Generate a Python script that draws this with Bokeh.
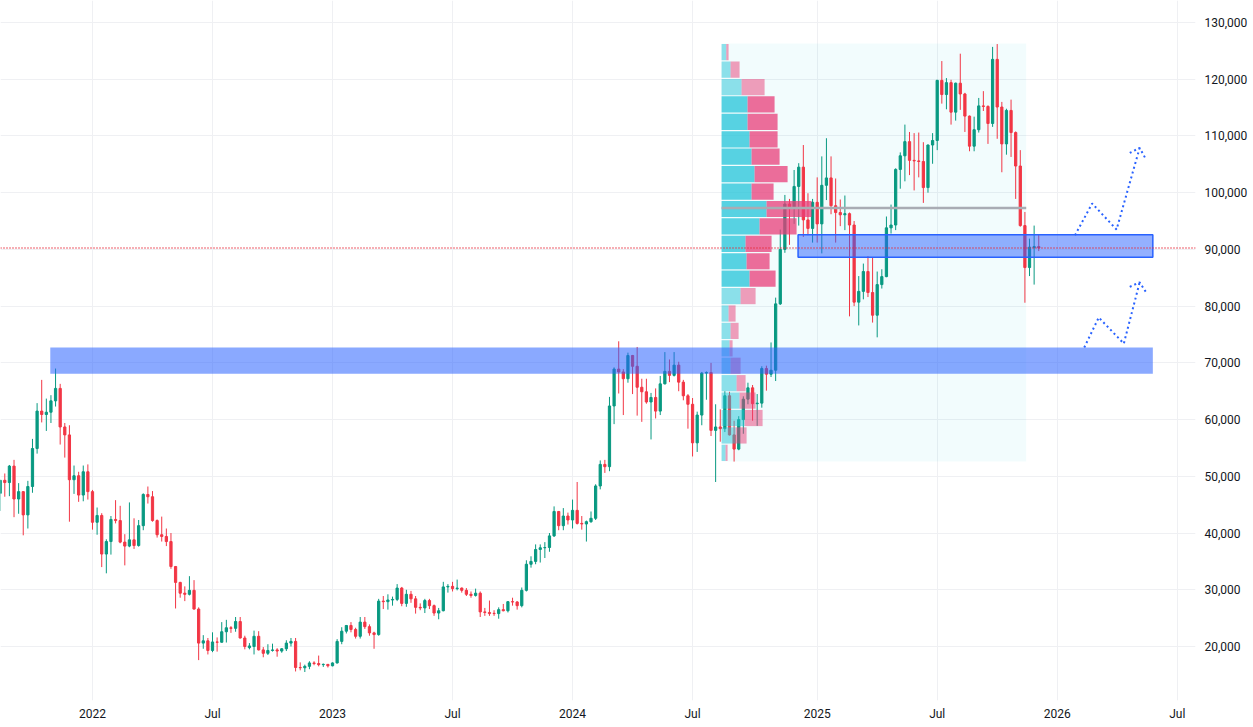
import pandas as pd
from bokeh.plotting import figure
from bokeh.models import Range1d, FixedTicker, NumeralTickFormatter, Span, ColumnDataSource
from bokeh.embed import file_html
from bokeh.resources import INLINE

# ---------------- data ----------------
# Weekly BTC/USD candles (week opening Monday), in thousands USD: (open, high, low, close)
first_week = "2021-08-16"
ohlc_2021 = [
    (47.0, 49.4, 43.9, 49.3), (49.3, 50.5, 46.4, 48.9), (48.9, 52.0, 46.5, 51.8), (51.8, 52.9, 42.8, 46.0),
    (46.0, 48.8, 43.4, 47.3), (47.3, 47.4, 39.6, 43.2), (43.2, 49.2, 40.8, 48.2), (48.2, 56.6, 47.1, 54.9),
    (54.9, 62.9, 54.0, 61.5), (61.5, 67.0, 59.5, 60.9), (60.9, 63.7, 58.0, 61.3), (61.3, 64.3, 59.4, 63.3),
    (63.3, 69.0, 62.3, 65.5), (65.5, 66.3, 55.6, 58.7), (58.7, 59.4, 53.3, 57.3), (57.3, 59.0, 42.0, 49.4),
    (49.4, 51.9, 46.9, 50.1), (50.1, 50.8, 45.5, 46.7), (46.7, 51.9, 45.6, 50.8), (50.8, 52.1, 45.9, 47.3),
]
ohlc_2022 = [
    (47.3, 47.6, 40.6, 41.9), (41.9, 44.5, 39.7, 43.1), (43.1, 43.5, 34.0, 36.3), (36.3, 38.9, 32.9, 38.5),
    (38.5, 43.0, 36.2, 42.4), (42.4, 45.8, 41.7, 42.2), (42.2, 44.8, 38.2, 38.4), (38.4, 39.8, 34.3, 37.7),
    (37.7, 45.4, 37.5, 38.8), (38.8, 42.6, 37.2, 37.8), (37.8, 42.3, 37.6, 41.3), (41.3, 47.0, 40.5, 46.8),
    (46.8, 48.2, 45.2, 46.4), (46.4, 47.4, 42.0, 42.2), (42.2, 42.4, 39.2, 39.7), (39.7, 42.9, 38.5, 39.4),
    (39.4, 40.8, 37.7, 38.5), (38.5, 40.0, 33.7, 34.1), (34.1, 34.2, 26.7, 31.3), (31.3, 31.4, 28.6, 29.4),
    (29.4, 30.6, 28.0, 29.2), (29.2, 32.4, 29.0, 29.9), (29.9, 31.7, 26.5, 26.6), (26.6, 26.9, 17.6, 20.6),
    (20.6, 22.0, 19.6, 21.0), (21.0, 21.5, 18.6, 19.3), (19.3, 22.5, 19.0, 20.8), (20.8, 21.6, 19.1, 20.75),
    (20.75, 24.3, 20.7, 22.6), (22.6, 24.7, 20.7, 23.3), (23.3, 23.6, 22.4, 23.2), (23.2, 25.2, 22.6, 24.4),
    (24.4, 25.2, 21.4, 21.5), (21.5, 21.9, 19.5, 20.0), (19.8, 20.6, 19.5, 20.1), (20.0, 22.8, 18.6, 21.8),
    (21.8, 22.7, 19.3, 19.4), (19.4, 19.9, 18.1, 18.8), (18.8, 20.4, 18.5, 19.3), (19.3, 20.5, 19.1, 19.4),
    (19.4, 19.7, 18.2, 19.2), (19.2, 19.7, 18.9, 19.6), (19.6, 21.1, 19.2, 20.6), (20.6, 21.5, 20.0, 20.9),
    (20.9, 21.5, 15.6, 16.3), (16.3, 17.2, 15.8, 16.25), (16.25, 16.8, 15.5, 16.5), (16.5, 17.4, 16.0, 17.1),
    (17.1, 17.4, 16.7, 17.0), (17.0, 18.4, 16.5, 16.8), (16.8, 17.0, 16.4, 16.85), (16.85, 16.9, 16.3, 16.6),
]
ohlc_2023 = [
    (16.6, 17.2, 16.5, 17.1), (17.1, 21.3, 17.0, 20.9), (20.9, 23.4, 20.4, 22.7), (22.7, 23.8, 22.3, 23.7),
    (23.7, 24.3, 22.5, 23.0), (23.0, 23.3, 21.4, 21.8), (21.8, 25.2, 21.4, 24.3), (24.3, 25.2, 23.1, 23.5),
    (23.5, 23.9, 21.9, 22.4), (22.4, 22.6, 19.6, 22.1), (22.1, 28.4, 21.9, 28.0), (28.0, 28.9, 26.6, 27.9),
    (27.9, 29.2, 26.5, 28.2), (28.2, 28.8, 27.2, 28.3), (28.3, 31.0, 28.0, 30.3), (30.3, 30.5, 27.1, 27.6),
    (27.6, 30.0, 27.0, 29.2), (29.2, 29.8, 27.7, 28.4), (28.4, 28.9, 25.8, 26.9), (26.9, 27.6, 26.4, 26.8),
    (26.8, 28.4, 25.9, 28.1), (28.1, 28.4, 26.6, 27.2), (27.2, 27.4, 25.4, 25.9), (25.9, 26.8, 24.8, 26.3),
    (26.3, 31.4, 26.2, 30.5), (30.5, 31.0, 29.5, 30.6), (30.6, 31.4, 29.7, 30.2), (30.2, 31.8, 29.9, 30.3),
    (30.3, 30.4, 29.5, 29.9), (29.9, 30.3, 28.9, 29.2), (29.2, 29.7, 28.6, 29.0), (29.0, 30.2, 28.8, 29.4),
    (29.4, 29.7, 25.2, 26.1), (26.1, 26.8, 25.4, 26.0), (26.0, 28.1, 25.4, 25.8), (25.85, 26.4, 25.4, 25.8),
    (25.8, 26.9, 24.9, 26.5), (26.5, 27.5, 26.2, 26.3), (26.3, 28.0, 26.0, 27.9), (27.9, 28.6, 27.2, 27.85),
    (27.85, 28.0, 26.5, 27.2), (27.2, 30.4, 26.9, 29.9), (29.9, 35.2, 29.7, 34.5), (34.5, 35.9, 33.9, 35.0),
    (35.0, 38.0, 34.5, 37.1), (37.1, 38.0, 34.8, 37.4), (37.4, 38.4, 35.6, 37.45), (37.45, 40.0, 36.7, 39.5),
    (39.5, 44.7, 39.3, 43.8), (43.8, 43.9, 40.5, 41.3), (41.3, 44.4, 40.5, 43.0), (43.0, 43.6, 41.5, 42.3),
]
ohlc_2024 = [
    (42.3, 45.9, 40.8, 44.0), (44.0, 49.0, 41.5, 41.7), (41.7, 43.0, 40.6, 41.6), (41.6, 42.2, 38.5, 42.0),
    (42.0, 43.8, 41.8, 42.6), (42.6, 48.6, 42.3, 48.3), (48.3, 52.8, 47.7, 52.1), (52.1, 52.9, 50.6, 51.7),
    (51.7, 64.0, 50.9, 62.4), (62.4, 69.2, 59.2, 68.9), (68.9, 73.8, 64.6, 68.4), (68.4, 68.9, 60.8, 67.2),
    (67.2, 71.8, 66.5, 71.3), (71.3, 71.4, 64.5, 69.4), (69.4, 72.8, 60.7, 65.7), (65.7, 67.2, 59.6, 64.9),
    (64.9, 67.2, 62.8, 63.1), (63.1, 64.7, 56.5, 63.9), (63.9, 65.5, 60.2, 61.5), (61.5, 67.7, 60.8, 66.3),
    (66.3, 71.9, 66.2, 68.5), (68.5, 70.6, 66.6, 67.8), (67.8, 71.9, 67.6, 69.6), (69.6, 70.2, 65.0, 66.6),
    (66.6, 67.0, 63.4, 64.2), (64.2, 64.5, 58.4, 62.7), (62.7, 63.8, 53.5, 55.9), (55.9, 61.4, 54.3, 60.8),
    (60.8, 68.4, 59.0, 68.2), (68.2, 68.5, 63.5, 68.3), (68.3, 70.0, 57.1, 58.1), (58.1, 62.7, 49.0, 58.7),
    (58.7, 61.8, 56.1, 58.4), (58.4, 65.0, 57.8, 64.2), (64.2, 64.9, 57.2, 57.3), (57.3, 59.8, 52.6, 54.8),
    (54.8, 60.6, 54.6, 60.0), (60.0, 64.1, 57.5, 63.6), (63.6, 66.5, 62.7, 65.6), (65.6, 66.1, 59.8, 62.8),
    (62.8, 64.5, 58.9, 62.9), (62.9, 69.4, 62.1, 69.0), (69.0, 69.5, 65.1, 68.0), (68.0, 73.6, 67.5, 68.7),
    (68.7, 81.5, 66.8, 80.4), (80.4, 93.5, 80.2, 90.0), (90.0, 99.6, 89.4, 98.0), (98.0, 98.9, 90.8, 97.2),
    (97.2, 104.0, 94.5, 101.1), (101.1, 105.2, 94.2, 104.5), (104.5, 108.4, 92.2, 95.2), (95.2, 99.9, 92.5, 93.7),
    (93.7, 98.9, 91.2, 98.3),
]
ohlc_2025 = [
    (98.3, 102.7, 91.2, 94.5), (94.5, 106.4, 89.3, 101.3), (101.3, 109.6, 98.7, 102.6), (102.6, 106.4, 96.2, 97.7),
    (97.7, 102.5, 91.2, 96.5), (96.5, 98.8, 94.1, 96.1), (96.1, 99.5, 93.4, 96.3), (96.3, 96.5, 78.2, 94.3),
    (94.3, 95.0, 80.0, 80.7), (80.7, 85.3, 76.6, 82.6), (82.6, 87.5, 81.2, 86.1), (86.1, 88.8, 81.6, 82.4),
    (82.4, 88.5, 77.1, 78.4), (78.4, 86.1, 74.5, 83.8), (83.8, 86.5, 83.1, 85.2), (85.2, 95.8, 85.1, 93.8),
    (93.8, 97.9, 92.8, 94.3), (94.3, 104.3, 93.4, 104.1), (104.1, 107.1, 100.7, 106.5), (106.5, 112.0, 102.0, 109.0),
    (109.0, 110.7, 103.1, 105.7), (105.7, 110.5, 100.4, 105.6), (105.6, 110.6, 102.7, 105.5), (105.5, 108.9, 98.2, 100.9),
    (100.9, 108.5, 100.0, 108.4), (108.4, 110.5, 105.1, 109.2), (109.2, 119.9, 107.5, 119.8), (119.8, 123.2, 115.7, 117.3),
    (117.3, 120.2, 114.7, 119.4), (119.4, 119.9, 112.0, 114.2), (114.2, 119.4, 112.7, 119.3), (119.3, 124.5, 114.6, 117.4),
    (117.4, 117.6, 110.7, 113.5), (113.5, 113.6, 107.3, 108.2), (108.2, 113.4, 107.3, 111.1), (111.1, 116.7, 110.6, 115.3),
    (115.3, 117.9, 114.4, 115.2), (115.2, 115.4, 108.6, 112.2), (112.2, 125.7, 111.6, 123.5), (123.5, 126.2, 109.5, 115.1),
    (115.1, 116.0, 103.6, 108.6), (108.6, 114.8, 106.7, 114.5), (114.5, 116.4, 106.3, 110.6), (110.6, 110.8, 98.9, 104.7),
    (104.7, 107.5, 94.0, 94.2), (94.2, 96.6, 80.6, 86.8), (86.8, 91.9, 85.3, 90.4), (90.3, 94.2, 83.8, 90.5),
    (90.5, 92.7, 89.7, 90.25),
]

# Fixed-range volume profile (bottom row first), relative volumes
profile_start = "2024-08-14"
profile_end = "2025-11-19"
profile_low = 52600
profile_high = 126300
vp_up = [4, 14, 23, 18, 15, 9, 8, 9, 7, 19, 28, 25, 24, 38, 45, 30, 33, 30, 28, 26, 26, 20, 9, 4.7]
vp_down = [2, 11, 18, 16, 9, 10, 3, 8, 7, 15, 26, 23, 26, 37, 45, 22, 33, 28, 28, 30, 27, 23, 9, 2.3]
vp_value_area = [False] * 10 + [True] * 11 + [False] * 3
poc_price = 97300

# Drawn zones (rectangles)
zone_start = ["2021-10-31", "2024-12-08"]
zone_end = ["2026-05-30", "2026-05-30"]
zone_low = [68100, 88600]
zone_high = [72700, 92600]

# Dotted projection paths
upper_path_dates = ["2026-02-01", "2026-02-27", "2026-04-05", "2026-05-10"]
upper_path_prices = [92500, 98100, 93500, 107900]
upper_head_dates = ["2026-04-25", "2026-05-10", "2026-05-19"]
upper_head_prices = [107000, 107900, 106000]
lower_path_dates = ["2026-02-15", "2026-03-09", "2026-04-16", "2026-05-10"]
lower_path_prices = [72700, 78000, 73400, 84200]
lower_head_dates = ["2026-04-25", "2026-05-10", "2026-05-20"]
lower_head_prices = [83400, 84200, 82400]

# Axis ticks
time_tick_dates = ["2022-01-01", "2022-07-01", "2023-01-01", "2023-07-01", "2024-01-01",
                   "2024-07-01", "2025-01-01", "2025-07-01", "2026-01-01", "2026-07-01"]
time_tick_labels = ["2022", "Jul", "2023", "Jul", "2024", "Jul", "2025", "Jul", "2026", "Jul"]
price_ticks = [20000, 30000, 40000, 50000, 60000, 70000, 80000, 90000, 100000, 110000, 120000, 130000]

# ---------------- build ----------------
ORIGIN = pd.Timestamp("2022-01-03")


def to_x(d):
    return (pd.Timestamp(d) - ORIGIN) / pd.Timedelta(days=1)


ohlc = ohlc_2021 + ohlc_2022 + ohlc_2023 + ohlc_2024 + ohlc_2025
weeks = pd.date_range(first_week, periods=len(ohlc), freq="7D")
UP, DOWN = "#089981", "#F23645"

cx = [to_x(w) for w in weeks]
op = [r[0] * 1000 for r in ohlc]
hi = [r[1] * 1000 for r in ohlc]
lo = [r[2] * 1000 for r in ohlc]
cl = [r[3] * 1000 for r in ohlc]
col = [UP if c >= o else DOWN for o, c in zip(op, cl)]
src = ColumnDataSource(dict(x=cx, top=[max(a, b) for a, b in zip(op, cl)],
                            bottom=[min(a, b) for a, b in zip(op, cl)],
                            high=hi, low=lo, color=col))

p = figure(frame_width=1195, frame_height=700,
           x_range=Range1d(-139.5, 1672.7), y_range=Range1d(10481, 133878),
           y_axis_location="right", output_backend="svg", toolbar_location=None,
           min_border=0, title=None)
p.outline_line_color = None
p.background_fill_color = "white"
p.border_fill_color = "white"

# axes
tick_x = []
for d in time_tick_dates:
    t = pd.Timestamp(d)
    t = t + pd.Timedelta(days=(7 - t.weekday()) % 7)
    tick_x.append(int(to_x(t)))
xt = FixedTicker(ticks=tick_x)
yt = FixedTicker(ticks=price_ticks)
xax = p.xaxis[0]
yax = p.yaxis[0]
xax.ticker = xt
xax.major_label_overrides = {x: lab for x, lab in zip(tick_x, time_tick_labels)}
yax.ticker = yt
yax.formatter = NumeralTickFormatter(format="0,0")
p.xgrid[0].ticker = xt
p.ygrid[0].ticker = yt
for ax, standoff in ((xax, 6), (yax, 9)):
    ax.axis_line_color = None
    ax.major_tick_line_color = None
    ax.minor_tick_line_color = None
    ax.major_tick_out = 0
    ax.major_tick_in = 0
    ax.major_label_standoff = standoff
    ax.major_label_text_font = "Roboto"
    ax.major_label_text_font_size = "12px"
    ax.major_label_text_color = "#131722"
for g in (p.xgrid[0], p.ygrid[0]):
    g.grid_line_color = "#EFF0F3"
    g.grid_line_width = 1

# volume profile background
px0 = to_x(profile_start)
px1 = to_x(profile_end)
p.quad(left=[px0], right=[px1], bottom=[profile_low], top=[profile_high],
       fill_color="#00BCD4", fill_alpha=0.05, line_color=None)

# candles
p.segment(x0="x", y0="low", x1="x", y1="high", line_color="color", line_width=1, source=src)
p.vbar(x="x", width=3.4, top="top", bottom="bottom", fill_color="color", line_color="color",
       line_width=1, source=src)

# volume profile rows
n = len(vp_up)
row_h = (profile_high - profile_low) / n
centers = [profile_low + (i + 0.5) * row_h for i in range(n)]
scale = 136.5 / max(u + d for u, d in zip(vp_up, vp_down))
up_right = [px0 + u * scale for u in vp_up]
dn_right = [ur + d * scale for ur, d in zip(up_right, vp_down)]
alphas = [0.75 if va else 0.5 for va in vp_value_area]
p.hbar(y=centers, height=row_h * 0.93, left=px0, right=up_right,
       fill_color="#23C4D8", fill_alpha=alphas, line_color=None)
p.hbar(y=centers, height=row_h * 0.93, left=up_right, right=dn_right,
       fill_color="#E83E78", fill_alpha=alphas, line_color=None)

# point of control
p.segment(x0=[px0], y0=[poc_price], x1=[px1], y1=[poc_price], line_color="#A9ACB4", line_width=2.4)

# zones
p.quad(left=[to_x(zone_start[0])], right=[to_x(zone_end[0])], bottom=[zone_low[0]], top=[zone_high[0]],
       fill_color="#2962FF", fill_alpha=0.55, line_color=None)
p.quad(left=[to_x(zone_start[1])], right=[to_x(zone_end[1])], bottom=[zone_low[1]], top=[zone_high[1]],
       fill_color="#2962FF", fill_alpha=0.5, line_color="#2962FF", line_width=1.5)

# projections
for ds, ps in ((upper_path_dates, upper_path_prices), (upper_head_dates, upper_head_prices),
               (lower_path_dates, lower_path_prices), (lower_head_dates, lower_head_prices)):
    p.line(x=[to_x(d) for d in ds], y=ps, line_color="#2962FF", line_width=2, line_dash="2 3")

# last price line
p.add_layout(Span(location=cl[-1], dimension="width", line_color="#E8293A",
                  line_width=1.6, line_dash="1 2"))

open("out.html", "w").write(file_html(p, INLINE))
